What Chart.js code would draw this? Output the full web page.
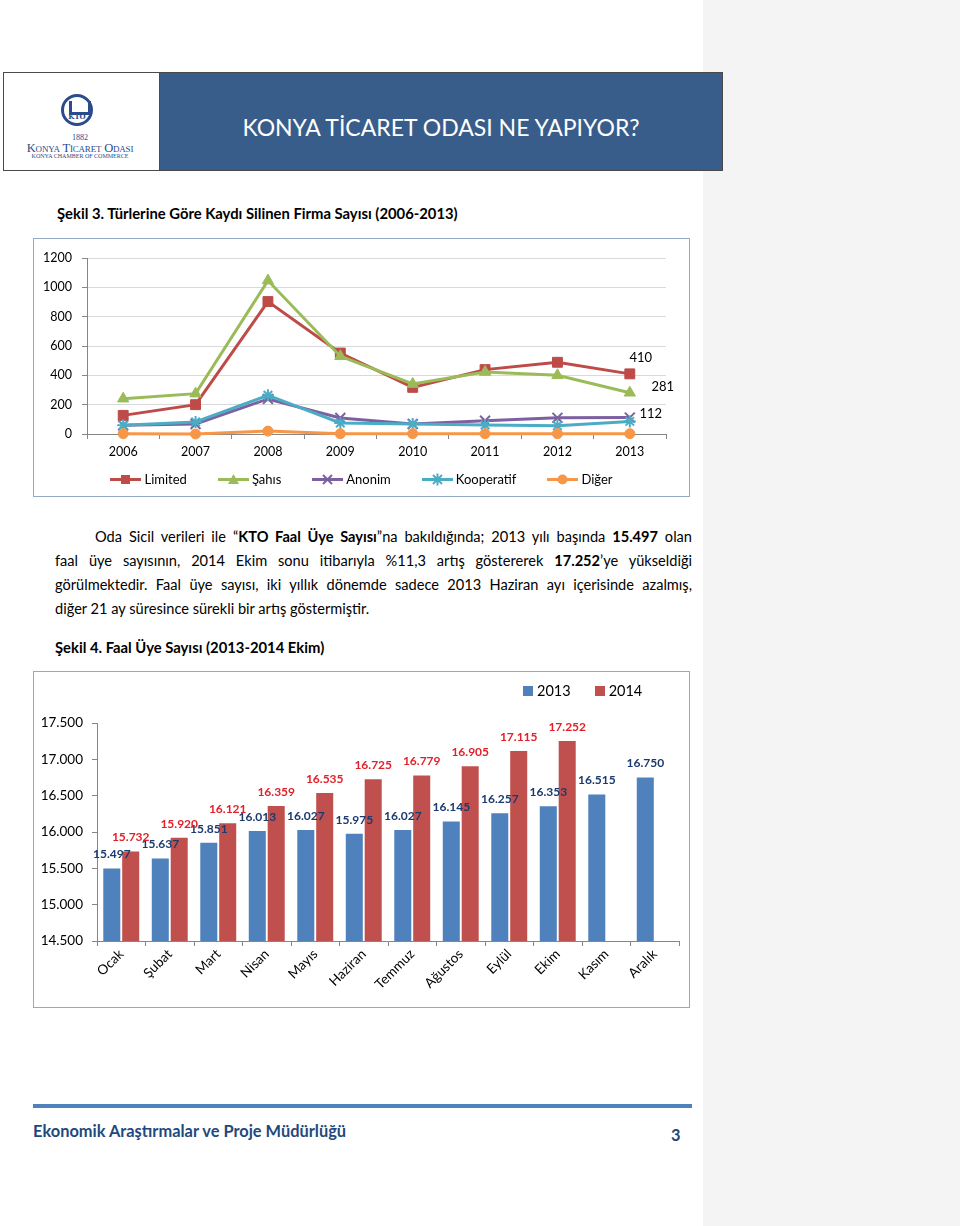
<!DOCTYPE html>
<html lang="tr">
<head>
<meta charset="utf-8">
<title>KTO - Faal Üye Sayısı</title>
<script src="https://cdn.jsdelivr.net/npm/chart.js@4.4.1/dist/chart.umd.min.js"></script>
<style>
  body { margin: 0; width: 960px; height: 1226px; position: relative; background: #fff; font-family: Lato, "Noto Sans", sans-serif; color: #000; overflow: hidden; }
  .side { position: absolute; left: 703px; top: 0; width: 257px; height: 1226px; background: #f4f4f4; }
  .header { position: absolute; left: 3px; top: 72px; width: 720px; height: 99px; border: 1px solid #4a4a4a; box-sizing: border-box; background: #fff; }
  .banner { position: absolute; left: 155px; top: 0; right: 0; bottom: 0; background: #385d8a; border-left: 1px solid #4a4a4a; color: #fff; font-size: 23px; display: flex; align-items: center; justify-content: center; padding-top: 10px; box-sizing: border-box; }
  .emblem { position: absolute; left: 61px; top: 94px; width: 32px; height: 32px; border: 3px solid #2b4c8c; border-radius: 50%; box-sizing: border-box; }
  .emblem::before { content: ""; position: absolute; left: 5px; top: 4px; width: 16px; height: 11px; border: 3px solid #2b4c8c; border-top: none; }
  .emblem span { position: absolute; left: 0; right: 0; top: 15px; text-align: center; font: bold 7px "DejaVu Serif", serif; color: #2b4c8c; }
  .logo-t { position: absolute; left: 4px; width: 152px; text-align: center; font-family: "Liberation Serif", "DejaVu Serif", serif; color: #2b4c8c; white-space: nowrap; }
  .caption { position: absolute; left: 55px; font-weight: bold; font-size: 14.8px; line-height: 24px; white-space: nowrap; }
  .para { position: absolute; left: 55px; width: 637px; font-size: 14.6px; line-height: 24px; }
  .para div { text-align: justify; text-align-last: justify; white-space: nowrap; }
  .para div.last { text-align-last: left; }
  .frame { position: absolute; left: 33px; width: 657px; border: 1px solid #95a9c6; box-sizing: border-box; background: #fff; }
  .frame canvas { position: absolute; left: 0; top: 0; }
  .legend1 { position: absolute; left: 0; right: 0; top: 233px; display: flex; justify-content: center; gap: 31px; font-size: 13px; line-height: 14px; }
  .legend1 span, .legend2 span { display: inline-flex; align-items: center; }
  .legend1 svg { margin-right: 3px; }
  .legend2 { position: absolute; top: 11px; left: 489px; display: flex; gap: 24px; font-size: 14.5px; line-height: 16px; }
  .legend2 i { display: inline-block; width: 10px; height: 10px; margin-right: 4px; }
  .footline { position: absolute; left: 33px; top: 1104px; width: 659px; height: 4px; background: #4f81bd; }
  .foot { position: absolute; top: 1119px; font-weight: bold; color: #1f497d; font-size: 16.4px; line-height: 24px; }
</style>
</head>
<body>
<div class="side"></div>

<div class="header">
  <div class="banner">KONYA TİCARET ODASI NE YAPIYOR?</div>
</div>
<div class="emblem"><span>KTO</span></div>
<div class="logo-t" style="top:133px;font-size:8px;">1882</div>
<div class="logo-t" style="top:141px;font-size:12.5px;font-variant:small-caps;letter-spacing:-0.2px;">Konya Ticaret Odası</div>
<div class="logo-t" style="top:153px;font-size:6px;">KONYA CHAMBER OF COMMERCE</div>

<div class="caption" style="top:201px;left:57px;">Şekil 3. Türlerine Göre Kaydı Silinen Firma Sayısı (2006-2013)</div>

<div class="frame" style="top:238px;height:259px;">
  <canvas id="typeChart" width="655" height="257"></canvas>
  <div class="legend1" id="typeLegend"></div>
</div>

<div class="para" style="top:525px;">
  <div style="margin-left:40px;">Oda Sicil verileri ile “<b>KTO Faal Üye Sayısı</b>”na bakıldığında; 2013 yılı başında <b>15.497</b> olan</div>
  <div>faal üye sayısının, 2014 Ekim sonu itibarıyla %11,3 artış göstererek <b>17.252</b>’ye yükseldiği</div>
  <div>görülmektedir. Faal üye sayısı, iki yıllık dönemde sadece 2013 Haziran ayı içerisinde azalmış,</div>
  <div class="last">diğer 21 ay süresince sürekli bir artış göstermiştir.</div>
</div>

<div class="caption" style="top:635px;">Şekil 4. Faal Üye Sayısı (2013-2014 Ekim)</div>

<div class="frame" style="top:671px;height:337px;">
  <canvas id="memberChart" width="655" height="335"></canvas>
  <div class="legend2" id="memberLegend"></div>
</div>

<div class="footline"></div>
<div class="foot" style="left:33px;">Ekonomik Araştırmalar ve Proje Müdürlüğü</div>
<div class="foot" style="left:671px;top:1123px;">3</div>

<script>
// Şekil 3 - firma türlerine göre kaydı silinen firma sayısı
const years = ['2006', '2007', '2008', '2009', '2010', '2011', '2012', '2013'];
const limited = [127, 200, 903, 552, 318, 439, 489, 410];
const sahis = [241, 275, 1046, 530, 341, 423, 400, 281];
const anonim = [59, 68, 239, 109, 68, 91, 110, 112];
const kooperatif = [60, 82, 264, 75, 68, 61, 57, 86];
const diger = [2, 0, 20, 2, 2, 2, 2, 2];
const typeTicks = [0, 200, 400, 600, 800, 1000, 1200];

// Şekil 4 - faal üye sayısı
const months = ['Ocak', 'Şubat', 'Mart', 'Nisan', 'Mayıs', 'Haziran', 'Temmuz', 'Ağustos', 'Eylül', 'Ekim', 'Kasım', 'Aralık'];
const members2013 = [15497, 15637, 15851, 16013, 16027, 15975, 16027, 16145, 16257, 16353, 16515, 16750];
const members2014 = [15732, 15920, 16121, 16359, 16535, 16725, 16779, 16905, 17115, 17252];
const memberTicks = [14500, 15000, 15500, 16000, 16500, 17000, 17500];

Chart.defaults.font.family = 'Lato, "Noto Sans", sans-serif';
Chart.defaults.color = '#000';
Chart.defaults.animation = false;

function dotNum(v) {
    return String(v).replace(/\B(?=(\d{3})+(?!\d))/g, '.');
}

// draws value labels next to the points / bars, as set on each dataset
const valueLabels = {
    id: 'valueLabels',
    afterDatasetsDraw(chart) {
        const ctx = chart.ctx;
        chart.data.datasets.forEach((ds, i) => {
            const lab = ds.valueLabel;
            if (!lab) return;
            const meta = chart.getDatasetMeta(i);
            meta.data.forEach((el, j) => {
                const v = ds.data[j];
                if (v == null) return;
                if (lab.lastOnly && j !== ds.data.length - 1) return;
                ctx.save();
                ctx.font = lab.font;
                ctx.fillStyle = lab.color;
                ctx.textAlign = 'center';
                ctx.textBaseline = 'middle';
                ctx.fillText(dotNum(v), el.x + (lab.dx || 0), el.y + (lab.dy || 0));
                ctx.restore();
            });
        });
    }
};

const typeSeries = [
    { label: 'Limited', data: limited, color: '#be4b48', style: 'rect', radius: 7, bw: 1, valueLabel: { lastOnly: true, dx: 11, dy: -16, font: '13px Lato', color: '#000' } },
    { label: 'Şahıs', data: sahis, color: '#9bbb59', style: 'triangle', radius: 6.5, bw: 1, valueLabel: { lastOnly: true, dx: 33, dy: -6, font: '13px Lato', color: '#000' } },
    { label: 'Anonim', data: anonim, color: '#7d60a0', style: 'crossRot', radius: 7, bw: 2, valueLabel: { lastOnly: true, dx: 21, dy: -4, font: '13px Lato', color: '#000' } },
    { label: 'Kooperatif', data: kooperatif, color: '#4bacc6', style: 'star', radius: 6, bw: 2 },
    { label: 'Diğer', data: diger, color: '#f79646', style: 'circle', radius: 5, bw: 1 }
];

new Chart(document.getElementById('typeChart'), {
    type: 'line',
    data: {
        labels: years,
        datasets: typeSeries.map((s, i) => ({
            label: s.label,
            data: s.data,
            borderColor: s.color,
            backgroundColor: s.color,
            borderWidth: 3,
            pointStyle: s.style,
            pointRadius: s.radius,
            pointBorderWidth: s.bw,
            pointBackgroundColor: s.color,
            pointBorderColor: s.color,
            tension: 0,
            clip: false,
            order: typeSeries.length - i,
            valueLabel: s.valueLabel
        }))
    },
    options: {
        responsive: false,
        devicePixelRatio: 1,
        layout: { padding: { top: 19, right: 23, left: 0, bottom: 0 } },
        plugins: { legend: { display: false }, tooltip: { enabled: false } },
        scales: {
            x: {
                offset: true,
                grid: { display: true, drawOnChartArea: false, offset: true, tickLength: 5, color: '#868686' },
                border: { color: '#868686' },
                ticks: { font: { size: 12.5 }, padding: 5, maxRotation: 0 },
                afterFit(scale) { scale.height = 62; }
            },
            y: {
                min: 0,
                max: 1200,
                afterBuildTicks(scale) { scale.ticks = typeTicks.map(v => ({ value: v })); },
                grid: { color: '#d9d9d9', tickLength: 5, tickColor: '#868686' },
                border: { color: '#868686' },
                ticks: { font: { size: 12.5 }, padding: 10, callback: v => String(v) },
                afterFit(scale) { scale.width = 53; }
            }
        }
    },
    plugins: [valueLabels]
});

// legend for Şekil 3, line with marker as in the original
function markerSvg(style, color) {
    let m = '';
    if (style === 'rect') m = `<rect x="11" y="2" width="9" height="9" fill="${color}"/>`;
    else if (style === 'triangle') m = `<polygon points="15.5,1 21,11 10,11" fill="${color}"/>`;
    else if (style === 'crossRot') m = `<path d="M11,2 L20,11 M20,2 L11,11" stroke="${color}" stroke-width="2"/>`;
    else if (style === 'star') m = `<path d="M11,2 L20,11 M20,2 L11,11 M15.5,0.5 L15.5,12.5" stroke="${color}" stroke-width="2"/>`;
    else m = `<circle cx="15.5" cy="6.5" r="5" fill="${color}"/>`;
    return `<svg width="31" height="13"><line x1="0" y1="6.5" x2="31" y2="6.5" stroke="${color}" stroke-width="3"/>${m}</svg>`;
}
document.getElementById('typeLegend').innerHTML = typeSeries
    .map(s => `<span>${markerSvg(s.style, s.color)}${s.label}</span>`).join('');

const memberSeries = [
    { label: '2013', data: members2013, color: '#4f81bd', labelColor: '#1b3a6e' },
    { label: '2014', data: members2014, color: '#c0504d', labelColor: '#e3202a' }
];

new Chart(document.getElementById('memberChart'), {
    type: 'bar',
    data: {
        labels: months,
        datasets: memberSeries.map(s => ({
            label: s.label,
            data: s.data,
            backgroundColor: s.color,
            borderWidth: 0,
            categoryPercentage: 0.78,
            barPercentage: 0.9,
            valueLabel: { dy: -14, font: 'bold 12px Lato', color: s.labelColor }
        }))
    },
    options: {
        responsive: false,
        devicePixelRatio: 1,
        layout: { padding: { top: 51, right: 10, left: 0, bottom: 0 } },
        plugins: { legend: { display: false }, tooltip: { enabled: false } },
        scales: {
            x: {
                grid: { drawOnChartArea: false, tickLength: 5, color: '#868686' },
                border: { color: '#868686' },
                ticks: { font: { size: 13.5 }, minRotation: 45, maxRotation: 45, padding: 0 },
                afterFit(scale) { scale.height = 66; }
            },
            y: {
                min: 14500,
                max: 17500,
                afterBuildTicks(scale) { scale.ticks = memberTicks.map(v => ({ value: v })); },
                grid: { drawOnChartArea: false, tickLength: 5, color: '#868686' },
                border: { color: '#868686' },
                ticks: { font: { size: 13.5 }, padding: 9, callback: v => dotNum(v) },
                afterFit(scale) { scale.width = 63; }
            }
        }
    },
    plugins: [valueLabels]
});

document.getElementById('memberLegend').innerHTML = memberSeries
    .map(s => `<span><i style="background:${s.color}"></i>${s.label}</span>`).join('');
</script>
</body>
</html>
